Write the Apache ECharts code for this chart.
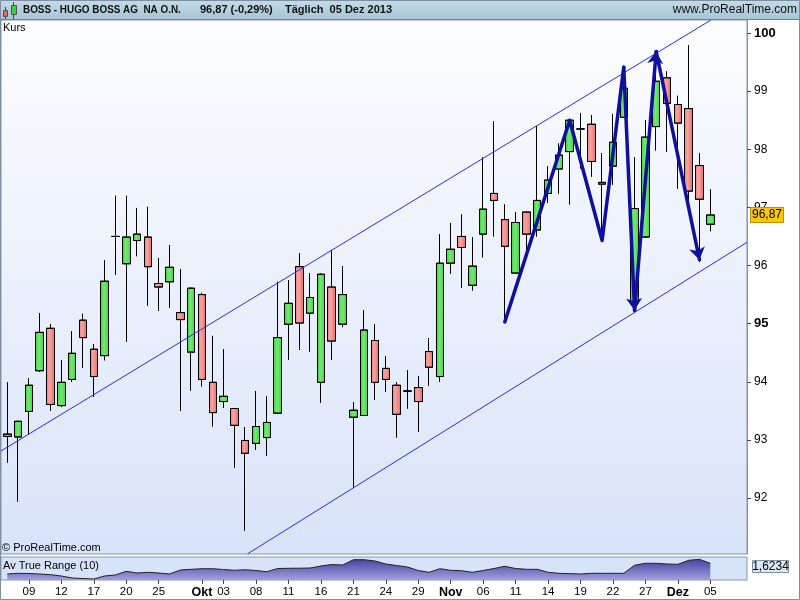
<!DOCTYPE html>
<html><head><meta charset="utf-8">
<script src="https://cdn.jsdelivr.net/npm/echarts@6/dist/echarts.min.js"></script>
<style>html,body{margin:0;padding:0;background:#fff}#c{width:800px;height:600px}</style>
</head><body><div id="c"></div><script>
// ---- data ----
const dates = ['05.09','06.09','09.09','10.09','11.09','12.09','13.09','16.09','17.09','18.09','19.09','20.09',
  '23.09','24.09','25.09','26.09','27.09','30.09','01.10','02.10','03.10','04.10','07.10','08.10','09.10','10.10',
  '11.10','14.10','15.10','16.10','17.10','18.10','21.10','22.10','23.10','24.10','25.10','28.10','29.10','30.10',
  '31.10','01.11','04.11','05.11','06.11','07.11','08.11','11.11','12.11','13.11','14.11','15.11','18.11','19.11',
  '20.11','21.11','22.11','25.11','26.11','27.11','28.11','29.11','02.12','03.12','04.12','05.12'];
const opens = [93.10,93.05,93.49,94.19,94.92,93.59,94.04,95.06,94.56,94.45,
  96.50,96.03,96.43,96.49,95.69,95.72,95.19,94.51,95.50,93.99,
  93.66,93.54,92.99,92.94,93.04,93.46,94.99,95.98,95.18,93.99,
  95.63,94.99,93.39,93.42,94.71,94.23,93.94,93.84,93.90,94.52,
  94.09,96.04,96.50,95.66,96.54,97.24,96.79,95.87,96.92,96.61,
  97.24,97.66,97.96,98.35,98.43,97.43,97.71,98.55,95.38,96.49,
  98.39,99.23,98.77,98.70,97.72,96.71];
const closes = [93.06,93.32,93.94,94.85,93.61,93.99,94.49,94.76,94.09,95.73,
  96.50,96.49,96.54,95.98,95.63,95.97,95.07,95.61,94.04,93.47,
  93.75,93.25,92.77,93.23,93.30,94.76,95.35,95.01,95.45,95.85,
  94.70,95.50,93.51,94.89,93.99,94.04,93.44,93.84,93.66,94.25,
  96.04,96.28,96.31,95.99,96.97,97.12,96.33,96.74,96.54,97.12,
  97.47,97.90,98.50,98.35,97.79,97.40,98.12,99.05,96.98,98.21,
  99.17,98.79,98.45,97.28,97.14,96.87];
const lows = [92.61,91.94,93.10,94.17,93.50,93.57,94.00,94.24,93.74,94.37,
  95.84,94.69,96.16,95.31,95.22,95.27,93.50,93.85,93.92,93.23,
  93.55,92.52,91.44,92.83,92.73,93.45,94.38,94.55,94.52,93.64,
  94.38,94.94,92.18,93.41,93.69,93.83,93.04,93.54,93.14,93.93,
  94.00,95.86,95.62,95.57,96.14,96.50,95.03,95.86,96.21,96.50,
  97.08,97.24,97.05,97.67,97.53,96.44,97.39,98.54,95.29,96.48,
  97.98,97.96,97.32,97.10,96.06,96.59];
const highs = [93.99,93.33,94.06,95.18,94.99,94.37,94.87,95.17,94.65,96.09,
  97.20,97.20,96.99,97.01,96.13,96.35,95.94,95.62,95.53,94.79,
  94.56,93.55,93.22,93.84,93.75,95.72,95.75,96.21,95.87,95.86,
  96.27,95.99,93.65,95.23,94.99,94.44,93.99,94.20,94.10,94.75,
  96.54,96.73,96.88,96.49,97.86,98.48,97.05,96.92,96.93,98.40,
  97.71,98.10,98.51,98.62,98.59,97.93,98.61,99.40,97.86,98.50,
  99.66,99.34,98.92,99.79,97.93,97.31];
const atr = [1.088,1.123,1.113,1.088,1.053,0.988,0.888,0.863,0.838,0.988,
  1.038,1.223,1.138,1.173,1.138,1.088,1.288,1.323,1.353,1.353,
  1.313,1.273,1.303,1.263,1.203,1.363,1.373,1.378,1.388,1.488,
  1.563,1.538,1.803,1.803,1.738,1.588,1.513,1.438,1.263,1.173,
  1.353,1.273,1.253,1.173,1.263,1.363,1.473,1.363,1.323,1.323,
  1.173,1.123,1.108,1.088,1.123,1.123,1.123,1.123,1.523,1.623,
  1.623,1.588,1.573,1.773,1.823,1.6234];
const priceTicks = [92,93,94,95,96,97,98,99,100];
const tickIdx  = [2,5,8,11,14,18,20,23,26,29,32,35,38,41,44,47,50,53,56,59,62,65];
const tickText = ['09','12','17','20','25','Okt','03','08','11','16','21','24','29','Nov','06','11','14','19','22','27','Dez','05'];
const monthText = ['Okt','Nov','Dez'];
// drawn lines: [candle index, price]
const upperChannel = [[-0.58, 92.81], [65.03, 100.22]];
const lowerChannel = [[22.22, 91.04], [68.40, 96.40]];
const zigzag = [[46, 95.03], [52, 98.50], [55, 96.43], [57, 99.41]];
const zigzagArrows = [[57, 99.41], [58, 95.23], [60, 99.68], [64, 96.10]];

// ---- chart ----
const FONT = '"Liberation Sans", Arial, Helvetica, sans-serif';
const chart = echarts.init(document.getElementById('c'), null, {renderer: 'canvas', width: 800, height: 600});
const candleData = dates.map((d, i) => [i, opens[i], closes[i], lows[i], highs[i]]);
const atrData = atr.map((v, i) => [i, v]);
const arrowSegs = [];
for (let k = 0; k < zigzagArrows.length - 1; k++) arrowSegs.push({coords: [zigzagArrows[k], zigzagArrows[k + 1]]});
const X_MIN = -0.5825, X_MAX = 68.396;
const Y_MIN = 91.037, Y_MAX = 100.224;
const A_MIN = 0.7884, A_MAX = 1.9384;

const greenGrad = {type: 'linear', x: 0, y: 0, x2: 1, y2: 0, colorStops: [
  {offset: 0, color: '#3fcc3f'}, {offset: 0.45, color: '#72ea72'}, {offset: 1, color: '#46d046'}]};
const redGrad = {type: 'linear', x: 0, y: 0, x2: 1, y2: 0, colorStops: [
  {offset: 0, color: '#ef8080'}, {offset: 0.4, color: '#f6a3a3'}, {offset: 1, color: '#e86a6a'}]};

chart.setOption({
  animation: false,
  backgroundColor: '#ffffff',
  textStyle: {fontFamily: FONT},
  grid: [
    {left: 1, top: 20, width: 746, height: 534, show: true,
      backgroundColor: {type: 'linear', x: 0, y: 0, x2: 0, y2: 1, colorStops: [{offset: 0, color: '#fcfdff'}, {offset: 1, color: '#d9e3f9'}]},
      borderColor: '#8797a6', borderWidth: 1},
    {left: 1, top: 557, width: 746, height: 23, show: true, backgroundColor: '#d7e3f8', borderColor: '#8797a6', borderWidth: 1}
  ],
  xAxis: [
    {type: 'value', gridIndex: 0, min: X_MIN, max: X_MAX, show: false},
    {type: 'value', gridIndex: 1, min: X_MIN, max: X_MAX, position: 'bottom',
      splitLine: {show: false}, axisLine: {show: false, onZero: false},
      axisTick: {show: true, customValues: tickIdx, length: 4, lineStyle: {color: '#444'}},
      axisLabel: {customValues: tickIdx, margin: 6, color: '#000', fontSize: 11.5, fontFamily: FONT,
        formatter: v => { const t = tickText[tickIdx.indexOf(Math.round(v))] || ''; return monthText.includes(t) ? '{b|' + t + '}' : t; },
        rich: {b: {fontWeight: 'bold', fontSize: 12.5, color: '#000', fontFamily: FONT}}}}
  ],
  yAxis: [
    {type: 'value', gridIndex: 0, position: 'right', min: Y_MIN, max: Y_MAX, splitLine: {show: false},
      axisLine: {show: true, onZero: false, lineStyle: {color: '#8797a6'}},
      axisTick: {show: true, customValues: priceTicks, length: 4, lineStyle: {color: '#444'}},
      axisLabel: {customValues: priceTicks, margin: 7, color: '#000', fontSize: 12, fontFamily: FONT,
        formatter: v => (Math.round(v) % 5 === 0 ? '{b|' + Math.round(v) + '}' : '' + Math.round(v)),
        rich: {b: {fontWeight: 'bold', fontSize: 13, color: '#000', fontFamily: FONT}}}},
    {type: 'value', gridIndex: 1, min: A_MIN, max: A_MAX, show: false, axisLine: {onZero: false}}
  ],
  series: [
    {type: 'candlestick', xAxisIndex: 0, yAxisIndex: 0, data: candleData, encode: {x: 0, y: [1, 2, 3, 4]},
      barWidth: 8, z: 2,
      itemStyle: {color: greenGrad, color0: redGrad, borderColor: '#000', borderColor0: '#000', borderColorDoji: '#000', borderWidth: 1}},
    {type: 'lines', coordinateSystem: 'cartesian2d', xAxisIndex: 0, yAxisIndex: 0, silent: true, z: 3,
      data: [{coords: upperChannel}, {coords: lowerChannel}], symbol: 'none',
      lineStyle: {color: '#2b2bf2', width: 1, opacity: 1}},
    {type: 'lines', coordinateSystem: 'cartesian2d', xAxisIndex: 0, yAxisIndex: 0, polyline: true, silent: true, z: 4,
      data: [{coords: zigzag}], symbol: 'none',
      lineStyle: {color: '#10109a', width: 3.5, opacity: 1, join: 'round', cap: 'round'}},
    {type: 'lines', coordinateSystem: 'cartesian2d', xAxisIndex: 0, yAxisIndex: 0, silent: true, z: 4,
      data: arrowSegs, symbol: ['none', 'arrow'], symbolSize: 12,
      lineStyle: {color: '#10109a', width: 3.5, opacity: 1, cap: 'round'}},
    {type: 'line', xAxisIndex: 1, yAxisIndex: 1, data: atrData, symbol: 'none', silent: true,
      lineStyle: {color: '#222', width: 1},
      areaStyle: {origin: 'start', opacity: 1, color: {type: 'linear', x: 0, y: 0, x2: 0, y2: 1,
        colorStops: [{offset: 0, color: '#4444a2'}, {offset: 1, color: '#a0a0de'}]}}}
  ]
});

const lastClose = closes[closes.length - 1];
const lastAtr = atr[atr.length - 1];
const pY = chart.convertToPixel({yAxisIndex: 0}, lastClose);
const aY = chart.convertToPixel({yAxisIndex: 1}, lastAtr);
const fmt = (v, d) => v.toFixed(d).replace('.', ',');

chart.setOption({
  graphic: [
    {type: 'rect', z: 50, shape: {x: 0, y: 0, width: 800, height: 19},
      style: {fill: {type: 'linear', x: 0, y: 0, x2: 0, y2: 1, colorStops: [{offset: 0, color: '#c4dbe7'}, {offset: 1, color: '#a6c6d6'}]}}},
    {type: 'line', z: 51, shape: {x1: 0, y1: 19.5, x2: 800, y2: 19.5}, style: {stroke: '#6d8393', lineWidth: 1}},
    // icon
    {type: 'line', z: 52, shape: {x1: 5.5, y1: 7, x2: 5.5, y2: 19}, style: {stroke: '#444', lineWidth: 1}},
    {type: 'rect', z: 53, shape: {x: 3.5, y: 10.5, width: 4, height: 6}, style: {fill: '#e86060', stroke: '#555', lineWidth: 1}},
    {type: 'line', z: 52, shape: {x1: 13.5, y1: 2, x2: 13.5, y2: 19}, style: {stroke: '#444', lineWidth: 1}},
    {type: 'rect', z: 53, shape: {x: 11.5, y: 5.5, width: 5, height: 9}, style: {fill: '#3fd03f', stroke: '#555', lineWidth: 1}},
    {type: 'text', z: 53, x: 23, y: 10, scaleX: 0.9, style: {text: 'BOSS - HUGO BOSS AG  NA O.N.', x: 0, y: 0, verticalAlign: 'middle', font: 'bold 11px ' + FONT, fill: '#111'}},
    {type: 'text', z: 53, style: {text: fmt(lastClose, 2) + ' (-0,29%)', x: 200, y: 10, verticalAlign: 'middle', font: 'bold 11px ' + FONT, fill: '#111'}},
    {type: 'text', z: 53, style: {text: 'Täglich  05 Dez 2013', x: 285, y: 10, verticalAlign: 'middle', font: 'bold 11px ' + FONT, fill: '#111'}},
    {type: 'text', z: 53, style: {text: 'www.ProRealTime.com', x: 797, y: 10, align: 'right', verticalAlign: 'middle', font: '12px ' + FONT, fill: '#111'}},
    {type: 'text', z: 53, style: {text: 'Kurs', x: 3, y: 28, verticalAlign: 'middle', font: '11px ' + FONT, fill: '#000'}},
    {type: 'text', z: 53, style: {text: '© ProRealTime.com', x: 2, y: 548, verticalAlign: 'middle', font: '11px ' + FONT, fill: '#000'}},
    {type: 'text', z: 53, style: {text: 'Av True Range (10)', x: 3, y: 566, verticalAlign: 'middle', font: '11px ' + FONT, fill: '#000'}},
    // price box
    {type: 'rect', z: 60, shape: {x: 750.5, y: Math.round(pY) - 7.5, width: 33, height: 15}, style: {fill: '#fbc800', stroke: '#b89000', lineWidth: 1}},
    {type: 'text', z: 61, style: {text: fmt(lastClose, 2), x: 767, y: Math.round(pY), align: 'center', verticalAlign: 'middle', font: '12px ' + FONT, fill: '#000'}},
    // ATR box
    {type: 'rect', z: 60, shape: {x: 752.5, y: Math.round(aY) - 2.5, width: 36, height: 12}, style: {fill: '#dce8f6', stroke: '#7f8f9f', lineWidth: 1}},
    {type: 'text', z: 61, style: {text: fmt(lastAtr, 4), x: 770.5, y: Math.round(aY) + 3.5, align: 'center', verticalAlign: 'middle', font: '12px ' + FONT, fill: '#000'}},
    // outer frame
    {type: 'rect', z: 70, shape: {x: 0.5, y: 0.5, width: 799, height: 599}, style: {fill: null, stroke: '#7f8f9f', lineWidth: 1}}
  ]
});
</script></body></html>
